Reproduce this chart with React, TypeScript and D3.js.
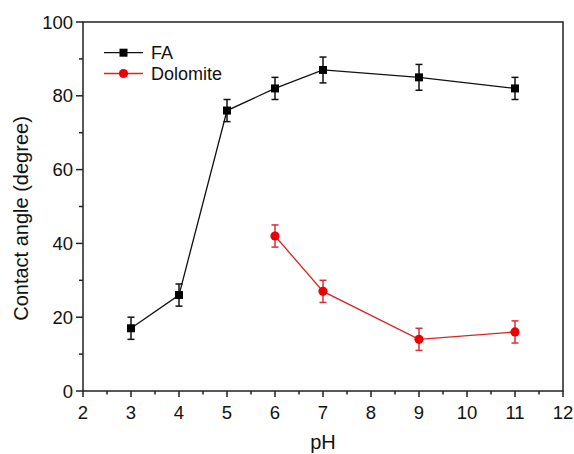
import React from "react";
import * as d3 from "d3";

// values
const phFA = [3, 4, 5, 6, 7, 9, 11];
const angleFA = [17, 26, 76, 82, 87, 85, 82];
const errFA = [3, 3, 3, 3, 3.5, 3.5, 3];

const phDolomite = [6, 7, 9, 11];
const angleDolomite = [42, 27, 14, 16];
const errDolomite = [3, 3, 3, 3];

const xTicks = [2, 3, 4, 5, 6, 7, 8, 9, 10, 11, 12];
const yTicks = [0, 20, 40, 60, 80, 100];

const width = 574;
const height = 454;
const margin = { top: 22, right: 11, bottom: 63, left: 83 };
const font = "'Liberation Sans', Arial, sans-serif";

const series = [
  { name: "FA", x: phFA, y: angleFA, err: errFA, color: "#000", line: "#111", shape: "square" },
  { name: "Dolomite", x: phDolomite, y: angleDolomite, err: errDolomite, color: "#ee0000", line: "#dd2222", shape: "circle" },
];

const App = () => {
  const x = d3.scaleLinear().domain([2, 12]).range([margin.left, width - margin.right]);
  const y = d3.scaleLinear().domain([0, 100]).range([height - margin.bottom, margin.top]);
  const x0 = x.range()[0];
  const x1 = x.range()[1];
  const y0 = y.range()[0];
  const y1 = y.range()[1];

  const line = d3
    .line<[number, number]>()
    .x((d) => x(d[0]))
    .y((d) => y(d[1]));

  const xMinor = d3.range(2.5, 12, 1);
  const yMinor = d3.range(10, 100, 20);

  const marker = (s, cx, cy, key) =>
    s.shape === "square" ? (
      <rect key={key} x={cx - 4} y={cy - 4} width={8} height={8} fill={s.color} />
    ) : (
      <circle key={key} cx={cx} cy={cy} r={4.6} fill={s.color} />
    );

  return (
    <svg width={width} height={height} style={{ position: "absolute", left: 0, top: 0, background: "#fff" }}>
      {/* frame */}
      <rect x={x0} y={y1} width={x1 - x0} height={y0 - y1} fill="none" stroke="#222" strokeWidth={1.5} />

      {/* x axis ticks */}
      {xTicks.map((t) => (
        <g key={"xt" + t}>
          <line x1={x(t)} x2={x(t)} y1={y0} y2={y0 + 6} stroke="#222" strokeWidth={1.5} />
          <text x={x(t)} y={y0 + 28} textAnchor="middle" fontFamily={font} fontSize={18.5} fill="#111">
            {t}
          </text>
        </g>
      ))}
      {xMinor.map((t) => (
        <line key={"xm" + t} x1={x(t)} x2={x(t)} y1={y0} y2={y0 + 3.5} stroke="#222" strokeWidth={1.5} />
      ))}

      {/* y axis ticks */}
      {yTicks.map((t) => (
        <g key={"yt" + t}>
          <line x1={x0 - 7} x2={x0} y1={y(t)} y2={y(t)} stroke="#222" strokeWidth={1.5} />
          <text x={x0 - 10} y={y(t) + 6.5} textAnchor="end" fontFamily={font} fontSize={18.5} fill="#111">
            {t}
          </text>
        </g>
      ))}
      {yMinor.map((t) => (
        <line key={"ym" + t} x1={x0 - 4} x2={x0} y1={y(t)} y2={y(t)} stroke="#222" strokeWidth={1.5} />
      ))}

      {/* axis titles */}
      <text x={(x0 + x1) / 2} y={449} textAnchor="middle" fontFamily={font} fontSize={20} fill="#111">
        pH
      </text>
      <text
        transform={`translate(28, ${(y0 + y1) / 2 + 12}) rotate(-90)`}
        textAnchor="middle"
        fontFamily={font}
        fontSize={20}
        fill="#111"
      >
        Contact angle (degree)
      </text>

      {/* series */}
      {series.map((s) => {
        const pts = s.x.map((v, i) => [v, s.y[i]] as [number, number]);
        return (
          <g key={s.name}>
            <path d={line(pts) || ""} fill="none" stroke={s.line} strokeWidth={1.3} />
            {pts.map((p, i) => {
              const cx = x(p[0]);
              const top = y(p[1] + s.err[i]);
              const bot = y(p[1] - s.err[i]);
              return (
                <g key={i} stroke={s.shape === "square" ? "#111" : "#d83030"} strokeWidth={1.5}>
                  <line x1={cx} x2={cx} y1={top} y2={bot} />
                  <line x1={cx - 3.5} x2={cx + 3.5} y1={top} y2={top} />
                  <line x1={cx - 3.5} x2={cx + 3.5} y1={bot} y2={bot} />
                </g>
              );
            })}
            {pts.map((p, i) => marker(s, x(p[0]), y(p[1]), "m" + i))}
          </g>
        );
      })}

      {/* legend */}
      {series.map((s, i) => {
        const ly = 52.7 + i * 20.8;
        return (
          <g key={"lg" + s.name}>
            <line x1={104} x2={143} y1={ly} y2={ly} stroke={s.line} strokeWidth={1.3} />
            {marker(s, 123.5, ly, "lm")}
            <text x={151} y={ly + 6.5} fontFamily={font} fontSize={18} fill="#111">
              {s.name}
            </text>
          </g>
        );
      })}
    </svg>
  );
};

export default App;
